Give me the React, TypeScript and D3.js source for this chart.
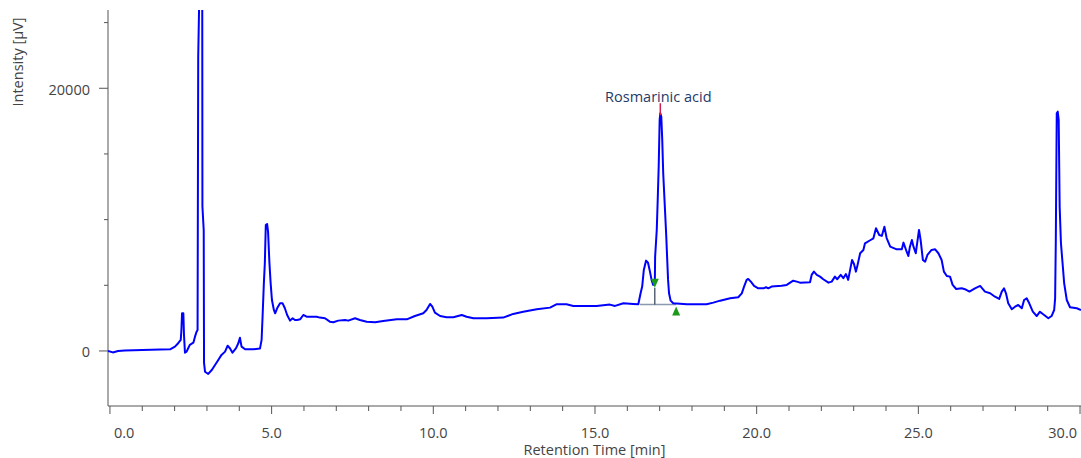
import React from 'react'
import * as d3 from 'd3'

const width = 1081
const height = 458
const plotLeft = 108
const plotRight = 1081
const plotTop = 10
const plotBottom = 406
const font = "'Open Sans', 'DejaVu Sans', sans-serif"
const textColor = '#444'
const axisColor = '#555'

// retention time [min]
const times = [
  -0.06, 0.09, 0.25, 0.46, 1.55, 1.86, 2.01, 2.11, 2.19, 2.21, 2.23, 2.27, 2.29, 2.32, 2.37, 2.42, 2.47, 2.58, 2.63, 2.68,
  2.71, 2.73, 2.77, 2.83, 2.855, 2.86, 2.9, 2.91, 2.94, 3.04, 3.15, 3.25, 3.35, 3.45, 3.56, 3.64, 3.71, 3.79, 3.9, 3.97,
  4.02, 4.07, 4.18, 4.43, 4.64, 4.69, 4.72, 4.76, 4.79, 4.82, 4.86, 4.89, 4.93, 4.97, 5.01, 5.07, 5.11, 5.17, 5.26, 5.34,
  5.41, 5.48, 5.57, 5.65, 5.72, 5.79, 5.88, 5.98, 6.08, 6.39, 6.49, 6.65, 6.8, 6.91, 7.06, 7.27, 7.37, 7.58, 7.73, 7.94,
  8.2, 8.45, 8.87, 9.18, 9.43, 9.69, 9.79, 9.9, 9.97, 10.05, 10.21, 10.41, 10.62, 10.88, 11.03, 11.24, 11.65, 12.16, 12.47, 12.78,
  13.2, 13.61, 13.82, 14.12, 14.33, 15.05, 15.46, 15.62, 15.88, 16.18, 16.34, 16.41, 16.46, 16.51, 16.58, 16.64, 16.7, 16.75, 16.8, 16.85,
  16.86, 16.91, 16.94, 16.97, 17.0, 17.02, 17.05, 17.08, 17.11, 17.16, 17.2, 17.23, 17.26, 17.29, 17.34, 17.42, 17.84, 18.45, 18.66, 18.87,
  19.18, 19.43, 19.54, 19.61, 19.69, 19.74, 19.82, 19.92, 20.05, 20.21, 20.29, 20.36, 20.46, 20.77, 20.93, 21.13, 21.24, 21.34, 21.65, 21.7,
  21.77, 21.86, 21.96, 22.06, 22.22, 22.32, 22.42, 22.49, 22.6, 22.68, 22.76, 22.83, 22.89, 22.95, 23.01, 23.07, 23.12, 23.2, 23.3, 23.35,
  23.51, 23.61, 23.69, 23.79, 23.87, 23.95, 24.02, 24.13, 24.33, 24.49, 24.54, 24.62, 24.69, 24.74, 24.8, 24.85, 24.92, 24.97, 25.02, 25.07,
  25.14, 25.21, 25.28, 25.41, 25.52, 25.62, 25.72, 25.79, 25.88, 25.98, 26.06, 26.17, 26.34, 26.44, 26.58, 26.75, 26.91, 27.06, 27.22, 27.37,
  27.5, 27.58, 27.65, 27.71, 27.78, 27.89, 27.99, 28.09, 28.2, 28.27, 28.35, 28.43, 28.54, 28.66, 28.76, 28.86, 29.02, 29.12, 29.2, 29.23,
  29.25, 29.28, 29.31, 29.34, 29.37, 29.41, 29.46, 29.51, 29.59, 29.69, 29.9, 30.03,
]

// detector signal [µV]
const signal = [
  0, -110, 0, 40, 110, 130, 330, 590, 840, 1600, 2870, 2870, 1220, -130, -50, 210, 460, 630, 1090, 1470,
  1600, 22400, 28000, 28000, 26000, 11000, 9200, -910, -1580, -1750, -1450, -1070, -690, -300, -50, 400, 210, -130, 210, 590,
  1010, 330, 130, 130, 180, 840, 2610, 5150, 6680, 9590, 9670, 9080, 6800, 5150, 3880, 3120, 2870, 3250, 3630, 3630,
  3250, 2740, 2310, 2490, 2360, 2360, 2410, 2740, 2610, 2610, 2540, 2490, 2230, 2190, 2310, 2360, 2310, 2490, 2360, 2230,
  2190, 2280, 2410, 2410, 2660, 2870, 3120, 3580, 3370, 2920, 2660, 2570, 2570, 2740, 2610, 2490, 2490, 2540, 2820, 2990,
  3180, 3300, 3560, 3560, 3430, 3430, 3530, 3430, 3630, 3580, 3560, 4390, 4900, 6170, 6880, 6720, 6040, 5410, 5030, 5150,
  7180, 9210, 11500, 14030, 17590, 18100, 17840, 16070, 13530, 10990, 8960, 7180, 5410, 4390, 3830, 3630, 3560, 3560, 3680, 3830,
  4010, 4090, 4390, 4900, 5410, 5480, 5280, 4950, 4770, 4770, 4850, 4770, 4900, 4970, 5030, 5350, 5280, 5200, 5230, 5790,
  6040, 5790, 5660, 5460, 5200, 5280, 5660, 5460, 5790, 5540, 5860, 5410, 6170, 6930, 6620, 6040, 6550, 7440, 7690, 8200,
  8430, 8580, 9340, 8830, 8760, 9460, 8600, 7940, 7740, 7740, 8250, 7690, 7230, 7940, 8450, 7940, 7440, 8320, 9210, 8450,
  6930, 6800, 7310, 7690, 7740, 7440, 6930, 6040, 5710, 5660, 5030, 4720, 4770, 4700, 4520, 4770, 4950, 4520, 4390, 4130,
  3960, 4520, 4770, 4390, 3630, 3180, 3370, 3500, 3250, 3880, 4010, 3630, 2990, 2660, 2990, 2790, 2490, 2660, 3120, 4010,
  8200, 18100, 18220, 17590, 10990, 8200, 6680, 5150, 3880, 3330, 3250, 3120,
]

const xMajorTicks = [0, 5, 10, 15, 20, 25, 30]
const xMinorTicks = [1, 2, 3, 4, 6, 7, 8, 9, 11, 12, 13, 14, 16, 17, 18, 19, 21, 22, 23, 24, 26, 27, 28, 29]
const yMinorTicks = [5000, 10000, 15000, 25000]
const yMajorTicks = [0, 20000]

// integrated peak
const peakName = 'Rosmarinic acid'
const peakApexTime = 17.02
const peakApexValue = 18100
const peakBaseStart = 16.39
const peakBaseEnd = 17.51
const peakBaseValue = 3530
const peakDropTime = 16.85
const peakDropValue = 4820

export default function App() {
  const x = d3.scaleLinear().domain([-0.06, 30.03]).range([plotLeft, plotRight])
  const y = d3.scaleLinear().domain([-4190, 25960]).range([plotBottom, plotTop])

  const points: [number, number][] = times.map((t, i) => [t, signal[i]])
  const line = d3.line<[number, number]>()
    .x(d => x(d[0]))
    .y(d => y(d[1]))

  const dropY = y(peakDropValue)
  const endY = y(peakBaseValue) + 2
  const last = xMajorTicks.length - 1

  return (
    <svg width={width} height={height}
      style={{ position: 'absolute', left: 0, top: 0, display: 'block', background: '#fff' }}
      fontFamily={font}>
      <defs>
        <clipPath id="plot">
          <rect x={plotLeft} y={plotTop} width={plotRight - plotLeft} height={plotBottom - plotTop} />
        </clipPath>
      </defs>

      {/* axes */}
      <line x1={plotLeft} x2={plotLeft} y1={plotTop} y2={plotBottom} stroke={axisColor} />
      <line x1={plotLeft} x2={plotRight} y1={plotBottom} y2={plotBottom} stroke={axisColor} />

      {yMinorTicks.map(v => (
        <line key={v} x1={plotLeft - 4} x2={plotLeft} y1={y(v)} y2={y(v)} stroke={axisColor} />
      ))}
      {yMajorTicks.map(v => (
        <g key={v}>
          <line x1={plotLeft - 9} x2={plotLeft} y1={y(v)} y2={y(v)} stroke={axisColor} />
          <text x={90} y={y(v) + 1} dy="0.36em" textAnchor="end" fontSize={14.5} fill={textColor}>{v}</text>
        </g>
      ))}

      {xMinorTicks.map(t => (
        <line key={t} x1={x(t)} x2={x(t)} y1={plotBottom} y2={plotBottom + 5} stroke={axisColor} />
      ))}
      {xMajorTicks.map((t, i) => (
        <g key={t}>
          <line x1={x(t)} x2={x(t)} y1={plotBottom} y2={plotBottom + 8} stroke={axisColor} />
          <text x={i === 0 ? x(t) + 4 : i === last ? x(t) - 3 : x(t)} y={438}
            textAnchor={i === 0 ? 'start' : i === last ? 'end' : 'middle'}
            fontSize={14.5} fill={textColor}>{t.toFixed(1)}</text>
        </g>
      ))}

      <text x={(plotLeft + plotRight) / 2} y={455} textAnchor="middle" fontSize={14.5} fill={textColor}>
        Retention Time [min]
      </text>
      <text transform={`translate(23, 62) rotate(-90)`} textAnchor="middle" fontSize={14.5} fill={textColor}>
        Intensity [µV]
      </text>

      {/* peak integration marks */}
      <line x1={x(peakBaseStart)} x2={x(peakBaseEnd)} y1={y(peakBaseValue)} y2={y(peakBaseValue)}
        stroke="#8a9bb0" strokeWidth={1.5} />
      <line x1={x(peakDropTime)} x2={x(peakDropTime)} y1={dropY} y2={y(peakBaseValue)}
        stroke="#2f3f50" strokeWidth={1.2} />

      <g clipPath="url(#plot)">
        <path d={line(points) ?? ''} fill="none" stroke="#0000ff" strokeWidth={2} strokeLinejoin="round" />
      </g>

      <path d={`M${x(peakDropTime) - 4},${dropY - 9} L${x(peakDropTime) + 4},${dropY - 9} L${x(peakDropTime)},${dropY} Z`}
        fill="#1a9a1a" />
      <path d={`M${x(peakBaseEnd) - 4},${endY + 9} L${x(peakBaseEnd) + 4},${endY + 9} L${x(peakBaseEnd)},${endY} Z`}
        fill="#1a9a1a" />
      <line x1={x(peakApexTime)} x2={x(peakApexTime)} y1={y(peakApexValue) - 10} y2={y(peakApexValue) + 2}
        stroke="#d02050" strokeWidth={1.5} />
      <text x={x(peakApexTime) - 2} y={102} textAnchor="middle" fontSize={14.5} fill="#1f3a68">{peakName}</text>
    </svg>
  )
}
